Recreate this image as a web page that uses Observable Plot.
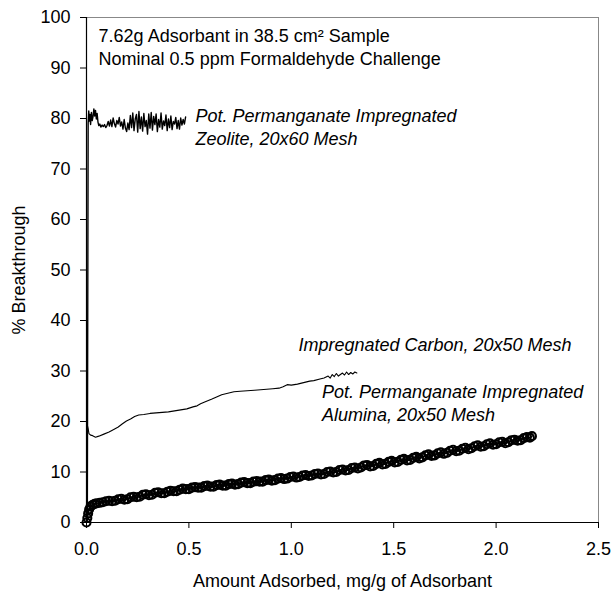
<!DOCTYPE html>
<html><head><meta charset="utf-8">
<script src="https://cdn.jsdelivr.net/npm/d3@7"></script>
<script src="https://cdn.jsdelivr.net/npm/@observablehq/plot@0.6"></script>
<style>body{margin:0;background:#fff;}</style>
</head><body><div id="chart"></div>
<script>
// Pot. Permanganate Impregnated Zeolite, 20x60 Mesh  [x (mg/g), % breakthrough]
const zeolite = [
[0,0],[0.004,0.5],[0.006,40],[0.008,79],[0.011,81.5],[0.014,79.5],[0.017,80.8],[0.02,78.8],[0.024,81.2],[0.028,79.6],
[0.032,80.4],[0.036,81.9],[0.04,80.5],[0.044,81.6],[0.048,79.9],[0.052,81.0],[0.056,79.3],[0.06,78.6],[0.065,78.9],[0.07,78.3],
[0.076,78.7],[0.082,78.4],[0.088,78.8],[0.094,78.2],[0.1,78.6],[0.106,79.4],[0.112,78.5],[0.118,79.7],[0.124,78.4],[0.13,80.1],
[0.136,79.0],[0.142,78.3],[0.148,79.6],[0.154,78.9],[0.16,80.2],[0.166,78.5],[0.172,79.3],[0.178,77.9],[0.184,79.8],[0.19,78.1],
[0.196,77.4],[0.202,79.1],[0.208,77.8],[0.214,80.6],[0.22,78.2],[0.226,81.1],[0.232,77.6],[0.238,79.9],[0.244,80.8],[0.25,77.3],
[0.256,81.4],[0.262,78.0],[0.268,80.3],[0.274,77.5],[0.28,81.0],[0.286,78.4],[0.292,79.6],[0.298,76.9],[0.304,80.9],[0.31,78.1],
[0.316,81.2],[0.322,77.7],[0.328,80.4],[0.334,78.8],[0.34,80.9],[0.346,77.4],[0.352,79.8],[0.358,78.3],[0.364,81.1],[0.37,77.9],
[0.376,79.5],[0.382,78.6],[0.388,80.7],[0.394,77.6],[0.40,79.9],[0.406,78.2],[0.412,80.5],[0.418,77.8],[0.424,79.4],[0.43,78.9],
[0.436,80.2],[0.442,78.0],[0.448,79.6],[0.454,77.9],[0.46,80.1],[0.466,78.7],[0.472,79.8],[0.478,78.9],[0.484,80.3]
];
// Impregnated Carbon, 20x50 Mesh
const carbon = [
[0.004,19.3],[0.008,18.6],[0.012,17.6],[0.02,17.3],[0.03,17.2],[0.044,16.9],[0.06,17.1],[0.085,17.5],[0.11,17.9],[0.133,18.4],
[0.155,18.9],[0.174,19.5],[0.195,20.1],[0.215,20.5],[0.235,21.0],[0.255,21.3],[0.28,21.4],[0.31,21.6],[0.34,21.7],[0.37,21.8],
[0.40,21.9],[0.43,22.1],[0.46,22.3],[0.49,22.5],[0.52,22.9],[0.54,23.1],[0.557,23.5],[0.58,23.9],[0.61,24.4],[0.638,24.9],
[0.66,25.3],[0.69,25.6],[0.72,25.9],[0.75,26.0],[0.785,26.1],[0.82,26.2],[0.85,26.3],[0.88,26.4],[0.91,26.5],[0.94,26.6],
[0.96,26.9],[0.98,27.3],[1.00,27.2],[1.03,27.4],[1.06,27.7],[1.09,28.0],[1.11,28.1],[1.14,28.4],[1.16,28.6],[1.18,29.0],
[1.19,28.6],[1.20,29.3],[1.21,28.9],[1.22,29.5],[1.23,29.0],[1.25,29.6],[1.26,29.2],[1.27,29.8],[1.28,29.3],[1.29,29.7],
[1.30,29.4],[1.31,29.8],[1.32,29.6]
];
// Pot. Permanganate Impregnated Alumina, 20x50 Mesh
const alumina = [
[0,0],[0.004,0.9],[0.008,1.8],[0.013,2.6],[0.02,3.2],[0.03,3.5],[0.04,3.7],
[0.05,3.8],[0.065,3.9],[0.08,4.0],[0.095,4.2],[0.11,4.3],[0.125,4.2],[0.14,4.3],[0.155,4.6],[0.17,4.7],[0.185,4.5],
[0.2,4.6],[0.215,5.0],[0.23,5.1],[0.245,5.0],[0.26,5.1],[0.275,5.5],[0.29,5.6],[0.305,5.4],[0.32,5.5],[0.335,5.9],
[0.35,6.0],[0.365,5.8],[0.38,5.8],[0.395,6.1],[0.41,6.3],[0.425,6.2],[0.44,6.2],[0.455,6.5],[0.47,6.7],[0.485,6.6],
[0.5,6.6],[0.515,6.9],[0.53,7.0],[0.545,6.9],[0.56,6.9],[0.575,7.2],[0.59,7.3],[0.605,7.1],[0.62,7.1],[0.635,7.4],
[0.65,7.5],[0.665,7.3],[0.68,7.3],[0.695,7.6],[0.71,7.7],[0.725,7.5],[0.74,7.6],[0.755,7.9],[0.77,8.0],[0.785,7.8],
[0.8,7.8],[0.815,8.1],[0.83,8.2],[0.845,8.1],[0.86,8.1],[0.875,8.4],[0.89,8.5],[0.905,8.3],[0.92,8.4],[0.935,8.7],
[0.95,8.8],[0.965,8.6],[0.98,8.7],[0.995,9.0],[1.01,9.1],[1.025,8.9],[1.04,9.0],[1.055,9.3],[1.07,9.4],[1.085,9.2],
[1.1,9.3],[1.115,9.6],[1.13,9.7],[1.145,9.5],[1.16,9.6],[1.175,10.0],[1.19,10.1],[1.205,9.9],[1.22,10.0],[1.235,10.4],
[1.25,10.5],[1.265,10.3],[1.28,10.4],[1.295,10.8],[1.31,10.9],[1.325,10.7],[1.34,10.9],[1.355,11.3],[1.37,11.4],[1.385,11.1],
[1.4,11.2],[1.415,11.6],[1.43,11.8],[1.445,11.5],[1.46,11.6],[1.475,12.0],[1.49,12.2],[1.505,11.9],[1.52,12.0],[1.535,12.4],
[1.55,12.6],[1.565,12.3],[1.58,12.4],[1.595,12.8],[1.61,13.0],[1.625,12.7],[1.64,12.9],[1.655,13.3],[1.67,13.5],[1.685,13.2],
[1.7,13.3],[1.715,13.7],[1.73,13.9],[1.745,13.6],[1.76,13.8],[1.775,14.2],[1.79,14.4],[1.805,14.1],[1.82,14.2],[1.835,14.6],
[1.85,14.8],[1.865,14.5],[1.88,14.7],[1.895,15.1],[1.91,15.3],[1.925,15.0],[1.94,15.1],[1.955,15.5],[1.97,15.7],[1.985,15.4],
[2.0,15.5],[2.015,15.9],[2.03,16.0],[2.045,15.7],[2.06,15.9],[2.075,16.3],[2.09,16.4],[2.105,16.2],[2.12,16.3],[2.135,16.7],
[2.15,16.9],[2.165,16.8],[2.175,17.1]
];
const xTicks = [0, 0.5, 1.0, 1.5, 2.0, 2.5];
const yTicks = [0, 10, 20, 30, 40, 50, 60, 70, 80, 90, 100];
const titleLines = "7.62g Adsorbant in 38.5 cm\u00B2 Sample\nNominal 0.5 ppm Formaldehyde Challenge";
const zeoliteLabel = "Pot. Permanganate Impregnated\nZeolite, 20x60 Mesh";
const carbonLabel = "Impregnated Carbon, 20x50 Mesh";
const aluminaLabel = "Pot. Permanganate Impregnated\nAlumina, 20x50 Mesh";
const xLabel = "Amount Adsorbed, mg/g of Adsorbant";
const yLabel = "% Breakthrough";

const font = "'Liberation Sans', Arial, sans-serif";
const fs = 18;
const chart = Plot.plot({
  width: 614, height: 592,
  marginLeft: 86, marginRight: 16, marginTop: 17, marginBottom: 70,
  style: {fontFamily: font, fontSize: fs + "px", background: "#fff", color: "#000", overflow: "visible"},
  x: {domain: [0, 2.5]},
  y: {domain: [0, 100]},
  marks: [
    Plot.ruleY([100], {stroke: "#888", strokeWidth: 1}),
    Plot.ruleX([2.5], {stroke: "#888", strokeWidth: 1}),
    Plot.axisX({ticks: xTicks, tickFormat: d => d.toFixed(1), tickSize: 6, tickPadding: 14, fontSize: fs,
      label: xLabel, labelAnchor: "center", labelArrow: "none", labelOffset: 64}),
    Plot.axisY({ticks: yTicks, tickSize: 6, tickPadding: 10, fontSize: fs,
      label: yLabel, labelAnchor: "center", labelArrow: "none", labelOffset: 74}),
    Plot.line(carbon, {x: d => d[0], y: d => d[1], stroke: "black", strokeWidth: 1.1}),
    Plot.line(zeolite, {x: d => d[0], y: d => d[1], stroke: "black", strokeWidth: 1.4}),
    Plot.line(alumina, {x: d => d[0], y: d => d[1], stroke: "black", strokeWidth: 1.6}),
    Plot.dot(alumina, {x: d => d[0], y: d => d[1], r: 4, stroke: "black", fill: "none", strokeWidth: 2.1}),
    Plot.ruleX([0], {stroke: "black", strokeWidth: 1.2}),
    Plot.ruleY([0], {stroke: "black", strokeWidth: 1.2}),
    Plot.text([titleLines], {x: 0.059, y: 94.4, text: d => d, textAnchor: "start", fontSize: fs, lineHeight: 1.28}),
    Plot.text([zeoliteLabel], {x: 0.532, y: 78.4, text: d => d, textAnchor: "start", fontSize: fs, fontStyle: "italic", lineHeight: 1.28}),
    Plot.text([carbonLabel], {x: 1.035, y: 35.2, text: d => d, textAnchor: "start", fontSize: fs, fontStyle: "italic"}),
    Plot.text([aluminaLabel], {x: 1.15, y: 23.9, text: d => d, textAnchor: "start", fontSize: fs, fontStyle: "italic", lineHeight: 1.28})
  ]
});
document.getElementById("chart").appendChild(chart);
</script>
</body></html>
